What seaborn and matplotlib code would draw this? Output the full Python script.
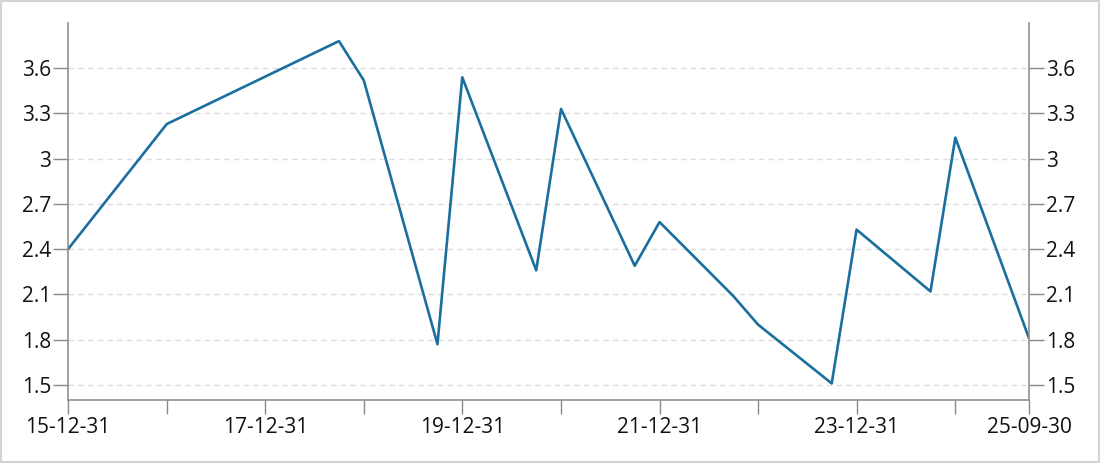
import matplotlib
matplotlib.use("Agg")
import matplotlib.pyplot as plt
import matplotlib.dates as mdates
import seaborn as sns
import pandas as pd
from matplotlib.patches import Rectangle

dates = ["2015-12-31", "2016-12-31", "2018-09-30", "2018-12-31", "2019-09-30",
         "2019-12-31", "2020-09-30", "2020-12-31", "2021-09-30", "2021-12-31",
         "2022-09-30", "2022-12-31", "2023-09-30", "2023-12-31", "2024-09-30",
         "2024-12-31", "2025-09-30"]
values = [2.40, 3.23, 3.78, 3.52, 1.77,
          3.54, 2.26, 3.33, 2.29, 2.58,
          2.09, 1.90, 1.51, 2.53, 2.12,
          3.14, 1.81]

tick_dates = ["2015-12-31", "2016-12-31", "2017-12-31", "2018-12-31", "2019-12-31",
              "2020-12-31", "2021-12-31", "2022-12-31", "2023-12-31", "2024-12-31",
              "2025-09-30"]
tick_labels = ["15-12-31", "", "17-12-31", "", "19-12-31", "", "21-12-31", "",
               "23-12-31", "", "25-09-30"]
y_ticks = [1.5, 1.8, 2.1, 2.4, 2.7, 3.0, 3.3, 3.6]
y_labels = ["1.5", "1.8", "2.1", "2.4", "2.7", "3", "3.3", "3.6"]

sns.set_style("white")
plt.rcParams["font.family"] = ["Open Sans", "DejaVu Sans"]

df = pd.DataFrame({"date": pd.to_datetime(dates), "value": values})

fig = plt.figure(figsize=(11, 4.63), dpi=100)
ax = fig.add_axes([68 / 1100, 1 - 400 / 463, (1029 - 68) / 1100, (400 - 23) / 463])

sns.lineplot(data=df, x="date", y="value", ax=ax, color="#1b6f9e", linewidth=1.9)

ax.set_xlim(pd.Timestamp("2015-12-31"), pd.Timestamp("2025-09-30"))
ax.set_ylim(1.4, 3.9)
ax.set_xticks(pd.to_datetime(tick_dates))
ax.set_xticklabels(tick_labels)
ax.set_yticks(y_ticks)
ax.set_yticklabels(y_labels)
ax.set_xlabel("")
ax.set_ylabel("")

ax.yaxis.grid(True, color="#dddddd", linestyle=(0, (4, 3)), linewidth=1.0)
ax.xaxis.grid(False)
ax.set_axisbelow(True)

for side in ["left", "right", "bottom"]:
    ax.spines[side].set_visible(True)
    ax.spines[side].set_color("#888888")
    ax.spines[side].set_linewidth(1.1)
ax.spines["top"].set_visible(False)

ax.tick_params(axis="y", which="both", left=True, right=True, labelleft=True,
               labelright=True, length=11, width=1.0, color="#888888",
               pad=1, labelsize=15, labelcolor="#111111")
ax.tick_params(axis="x", bottom=True, length=10, width=1.0, color="#888888",
               pad=2, labelsize=15, labelcolor="#111111")

fig.patches.append(Rectangle((0, 0), 1, 1, transform=fig.transFigure, fill=False,
                             edgecolor="#d4d4d4", linewidth=3, zorder=10))

fig.savefig("out.png", dpi=100, facecolor="white")
